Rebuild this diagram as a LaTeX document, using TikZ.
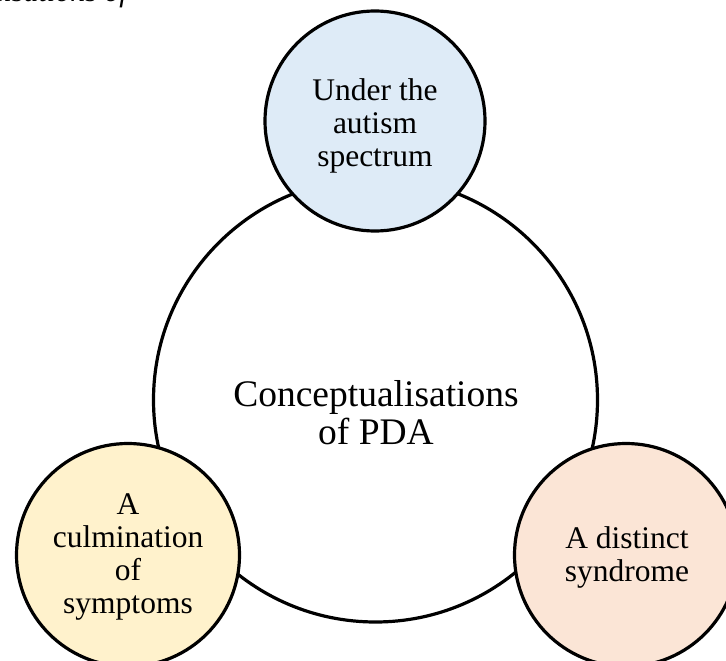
\documentclass[tikz,border=0pt]{standalone}
\usepackage{fontspec}
\setmainfont{Liberation Serif}
\definecolor{topblue}{HTML}{DEEBF7}
\definecolor{leftyellow}{HTML}{FFF2CC}
\definecolor{rightpeach}{HTML}{FBE5D6}
\begin{document}
\begin{tikzpicture}[x=1pt,y=-1pt,
  ring/.style={circle,draw=black,line width=3.2pt,inner sep=0pt},
  lbl/.style={align=center,inner sep=0pt,font=\fontsize{31.5}{33}\selectfont},
  bigl/.style={align=center,inner sep=0pt,font=\fontsize{37.5}{36}\selectfont},
]
\useasboundingbox (0,0) rectangle (726,661);
\begin{scope}
\clip (0,0) rectangle (726,661);
\node[ring,minimum size=444pt] (core) at (375.5,400) {};
\node[ring,fill=topblue,minimum size=220pt] (top) at (375,121) {};
\node[ring,fill=leftyellow,minimum size=223pt] (left) at (128,555) {};
\node[ring,fill=rightpeach,minimum size=223pt] (right) at (626,555) {};
\node[anchor=base east,inner sep=0pt,font=\itshape\fontsize{30}{33}\selectfont] (frag) at (128,1.5) {Conceptualisations of};
\end{scope}
\node[bigl] (coretext) at (376,418) {\strut Conceptualisations\\\strut of PDA};
\node[lbl] (toptext) at (375,126.4) {\strut Under the\\\strut autism\\\strut spectrum};
\node[lbl] (lefttext) at (128,557) {\strut A\\\strut culmination\\\strut of\\\strut symptoms};
\node[lbl] (righttext) at (627,558) {\strut A distinct\\\strut syndrome};
\end{tikzpicture}
\end{document}
